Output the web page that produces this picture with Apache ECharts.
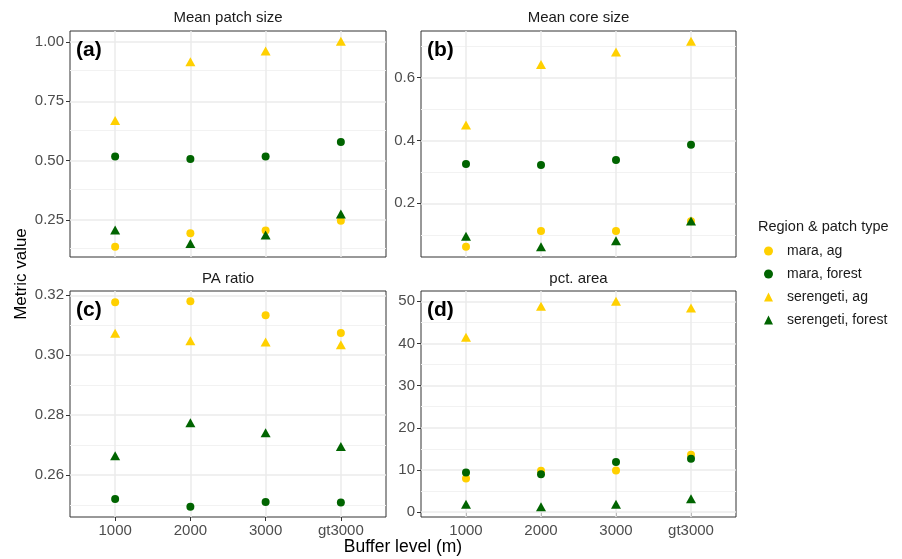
<!DOCTYPE html>
<html>
<head>
<meta charset="utf-8">
<script src="https://cdn.jsdelivr.net/npm/echarts@6/dist/echarts.min.js"></script>
<style>
html,body{margin:0;padding:0;background:#fff;}
#chart{width:902px;height:559px;}
</style>
</head>
<body>
<div id="chart"></div>
<script>
// ---- Data ----
const categories = ['1000', '2000', '3000', 'gt3000'];
const seriesNames = ['mara, ag', 'mara, forest', 'serengeti, ag', 'serengeti, forest'];
const panelTitles = ['Mean patch size', 'Mean core size', 'PA ratio', 'pct. area'];
const panelLabels = ['(a)', '(b)', '(c)', '(d)'];

// Mean patch size
const patchMaraAg = [0.137, 0.194, 0.205, 0.247];
const patchMaraForest = [0.517, 0.507, 0.517, 0.578];
const patchSerAg = [0.669, 0.917, 0.962, 1.003];
const patchSerForest = [0.208, 0.151, 0.186, 0.275];

// Mean core size
const coreMaraAg = [0.062, 0.112, 0.112, 0.143];
const coreMaraForest = [0.325, 0.322, 0.338, 0.386];
const coreSerAg = [0.449, 0.641, 0.681, 0.715];
const coreSerForest = [0.095, 0.062, 0.081, 0.144];

// PA ratio
const paMaraAg = [0.3177, 0.3180, 0.3133, 0.3074];
const paMaraForest = [0.2520, 0.2494, 0.2510, 0.2508];
const paSerAg = [0.3073, 0.3048, 0.3044, 0.3035];
const paSerForest = [0.2664, 0.2774, 0.2741, 0.2695];

// pct. area
const areaMaraAg = [8.0, 9.8, 9.9, 13.6];
const areaMaraForest = [9.4, 9.0, 11.9, 12.7];
const areaSerAg = [41.5, 48.8, 50.0, 48.4];
const areaSerForest = [1.9, 1.3, 1.9, 3.2];

// Tick labels (major) and minor grid values
const ticksA = [0.25, 0.50, 0.75, 1.00];
const minorA = [0.125, 0.375, 0.625, 0.875];
const ticksB = [0.2, 0.4, 0.6];
const minorB = [0.1, 0.3, 0.5, 0.7];
const ticksC = [0.26, 0.28, 0.30, 0.32];
const minorC = [0.25, 0.27, 0.29, 0.31];
const ticksD = [0, 10, 20, 30, 40, 50];
const minorD = [5, 15, 25, 35, 45];

// ---- Build ----
const panelData = [
  [patchMaraAg, patchMaraForest, patchSerAg, patchSerForest],
  [coreMaraAg, coreMaraForest, coreSerAg, coreSerForest],
  [paMaraAg, paMaraForest, paSerAg, paSerForest],
  [areaMaraAg, areaMaraForest, areaSerAg, areaSerForest]
];
const panelTicks = [ticksA, ticksB, ticksC, ticksD];
const panelMinor = [minorA, minorB, minorC, minorD];
const panelDecimals = [2, 1, 2, 0];

const YELLOW = '#FFD000';
const GREEN = '#006400';
const colors = [YELLOW, GREEN, YELLOW, GREEN];
const symbols = ['circle', 'circle', 'triangle', 'triangle'];
const symbolSizes = [8, 8, [10, 9], [10, 9]];

const FONT = '"Liberation Sans", Arial, Helvetica, sans-serif';

const gridPos = [
  {left: 70, top: 31, width: 316, height: 226},
  {left: 421, top: 31, width: 315, height: 226},
  {left: 70, top: 291, width: 316, height: 226},
  {left: 421, top: 291, width: 315, height: 226}
];

// ggplot-like 5% expansion of y range
function yRange(arrs) {
  let lo = Infinity, hi = -Infinity;
  arrs.forEach(a => a.forEach(v => { lo = Math.min(lo, v); hi = Math.max(hi, v); }));
  const pad = (hi - lo) * 0.05;
  return [lo - pad, hi + pad];
}

const grids = [], xAxes = [], yAxes = [], series = [];
const catIdx = categories.map((c, i) => i + 1);

for (let p = 0; p < 4; p++) {
  grids.push(Object.assign({show: true, borderColor: '#333333', borderWidth: 1, backgroundColor: '#fff', containLabel: false}, gridPos[p]));
  const bottom = p >= 2;
  xAxes.push({
    type: 'value', gridIndex: p, min: 0.4, max: 4.6,
    axisLine: {show: false},
    splitLine: {show: false},
    axisTick: {show: bottom, customValues: catIdx, length: 4, lineStyle: {color: '#333333'}},
    axisLabel: {show: bottom, customValues: catIdx, margin: 6, color: '#4d4d4d', fontSize: 15, fontFamily: FONT,
      formatter: v => categories[Math.round(v) - 1] || ''}
  });
  const r = yRange(panelData[p]);
  const dec = panelDecimals[p];
  yAxes.push({
    type: 'value', gridIndex: p, min: r[0], max: r[1],
    axisLine: {show: false},
    splitLine: {show: false},
    axisTick: {show: true, customValues: panelTicks[p], length: 4, lineStyle: {color: '#333333'}},
    axisLabel: {customValues: panelTicks[p], margin: 6, color: '#4d4d4d', fontSize: 15, fontFamily: FONT,
      formatter: v => Number(v).toFixed(dec)}
  });
  // gridlines series
  const gl = [];
  panelMinor[p].filter(v => v > r[0] && v < r[1]).forEach(v => gl.push({yAxis: v, lineStyle: {color: '#f2f2f2', width: 1}}));
  panelTicks[p].forEach(v => gl.push({yAxis: v, lineStyle: {color: '#ebebeb', width: 1.5}}));
  catIdx.forEach(v => gl.push({xAxis: v, lineStyle: {color: '#ebebeb', width: 1.5}}));
  series.push({
    type: 'scatter', xAxisIndex: p, yAxisIndex: p, data: [], z: 1, silent: true,
    markLine: {silent: true, z: 1, symbol: 'none', label: {show: false}, animation: false, data: gl, lineStyle: {type: 'solid'}}
  });
  for (let s = 0; s < 4; s++) {
    series.push({
      name: seriesNames[s], type: 'scatter', xAxisIndex: p, yAxisIndex: p, z: 3,
      symbol: symbols[s], symbolSize: symbolSizes[s],
      itemStyle: {color: colors[s], opacity: 1},
      data: panelData[p][s].map((v, i) => [catIdx[i], v])
    });
  }
}

const graphics = [];
const titleY = [18, 18, 279, 279];
for (let p = 0; p < 4; p++) {
  const g = gridPos[p];
  graphics.push({type: 'text', x: g.left + g.width / 2, y: titleY[p],
    style: {text: panelTitles[p], font: '15px ' + FONT, fill: '#1a1a1a', textAlign: 'center', textVerticalAlign: 'middle'}});
  graphics.push({type: 'text', left: g.left + 6, top: g.top + 9, z: 10,
    style: {text: panelLabels[p], font: 'bold 21px ' + FONT, fill: '#000'}});
}
graphics.push({type: 'text', x: 403, y: 547,
  style: {text: 'Buffer level (m)', font: '17.5px ' + FONT, fill: '#000', textAlign: 'center', textVerticalAlign: 'middle'}});
graphics.push({type: 'text', x: 21, y: 274, rotation: Math.PI / 2,
  style: {text: 'Metric value', font: '17px ' + FONT, fill: '#000', textAlign: 'center', textVerticalAlign: 'middle'}});
graphics.push({type: 'text', x: 758, y: 227,
  style: {text: 'Region & patch type', font: '14.5px ' + FONT, fill: '#1a1a1a', textVerticalAlign: 'middle'}});

const option = {
  animation: false,
  backgroundColor: '#fff',
  grid: grids,
  xAxis: xAxes,
  yAxis: yAxes,
  legend: {
    orient: 'vertical', left: 764, top: 244, padding: 0, itemWidth: 9, itemHeight: 9, itemGap: 9,
    data: seriesNames,
    textStyle: {fontSize: 14, fontFamily: FONT, color: '#1a1a1a', padding: [0, 0, 0, 9]},
    selectedMode: false
  },
  graphic: graphics,
  series: series
};
const chart = echarts.init(document.getElementById('chart'), null, {renderer: 'canvas'});
chart.setOption(option);
</script>
</body>
</html>
